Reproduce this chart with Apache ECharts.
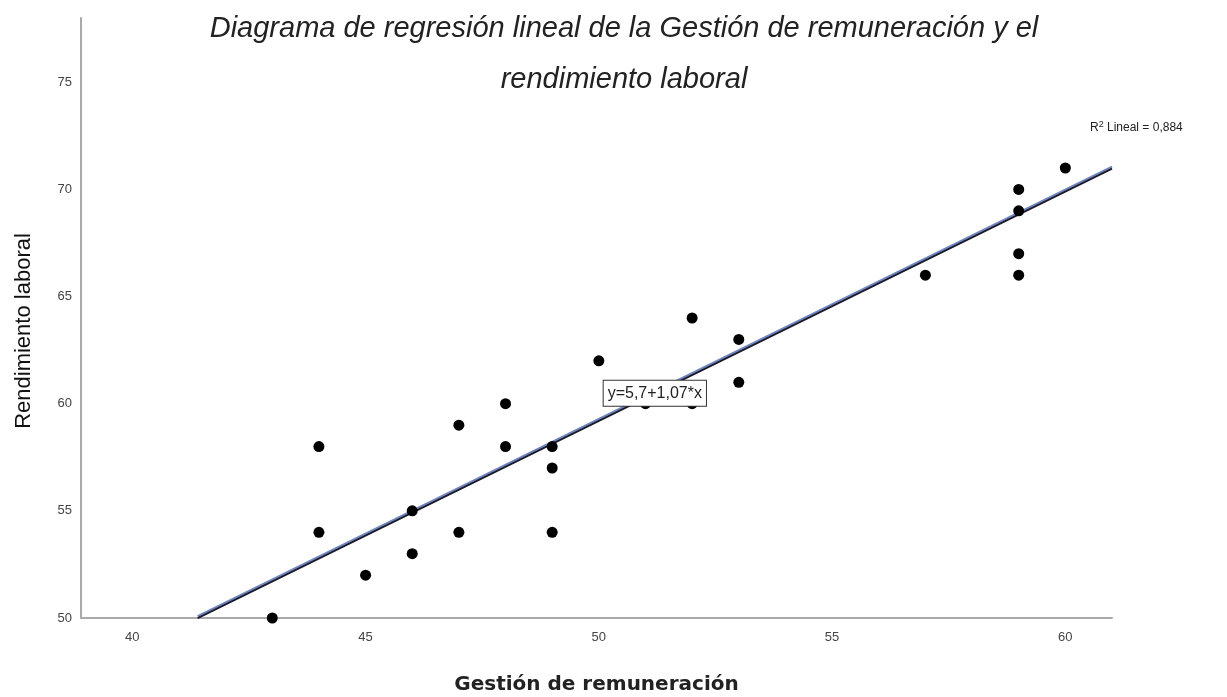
<!DOCTYPE html>
<html>
<head>
<meta charset="UTF-8">
<title>Diagrama de regresión</title>
<script src="https://cdn.jsdelivr.net/npm/echarts@6/dist/echarts.min.js"></script>
<style>
  html, body { margin: 0; padding: 0; background: #fff; }
  #main { width: 1227px; height: 697px; }
</style>
</head>
<body>
<div id="main"></div>
<script type="text/javascript">
// Gestión de remuneración (x) y Rendimiento laboral (y)
var gestion = [43, 44, 44, 45, 46, 46, 47, 47, 48, 48, 49, 49, 49, 50, 51, 52, 52, 53, 53, 57, 59, 59, 59, 59, 60];
var rendimiento = [50, 58, 54, 52, 55, 53, 59, 54, 60, 58, 58, 57, 54, 62, 60, 60, 64, 63, 61, 66, 70, 69, 67, 66, 71];
var xTicks = [40, 45, 50, 55, 60];
var yTicks = [50, 55, 60, 65, 70, 75];
// recta ajustada y = 5,7 + 1,07x, dibujada entre sus extremos visibles
var interseccion = 5.7;
var pendiente = 1.07;
var lineaX = [41.4, 61];
var etiquetaX = 51.2;

var puntos = gestion.map(function (g, i) { return [g, rendimiento[i]]; });
var recta = lineaX.map(function (x) { return [x, interseccion + pendiente * x]; });

var fuente = 'Liberation Sans, Arial, sans-serif';

var myChart = echarts.init(document.getElementById('main'));
myChart.setOption({
    animation: false,
    title: {
        text: 'Diagrama de regresión lineal de la Gestión de remuneración y el\nrendimiento laboral',
        left: 619,
        top: -2,
        textAlign: 'center',
        textStyle: {
            fontFamily: fuente,
            fontStyle: 'italic',
            fontWeight: 'normal',
            fontSize: 29,
            lineHeight: 51,
            color: '#222'
        }
    },
    grid: { left: 81, right: 115, top: 18, bottom: 79, outerBoundsMode: 'none' },
    xAxis: {
        type: 'value',
        min: 38.9,
        max: 61,
        name: 'Gestión de remuneración',
        nameLocation: 'middle',
        nameGap: 57,
        nameTextStyle: { fontFamily: 'DejaVu Sans, sans-serif', fontSize: 20, fontWeight: 'bold', color: '#222' },
        axisLine: { lineStyle: { color: '#aaa', width: 2 } },
        axisTick: { show: false },
        splitLine: { show: false },
        axisLabel: { customValues: xTicks, color: '#444', fontSize: 13, margin: 13, fontFamily: fuente }
    },
    yAxis: {
        type: 'value',
        min: 50,
        max: 78,
        axisLine: { show: true, lineStyle: { color: '#aaa', width: 2 } },
        axisTick: { show: false },
        splitLine: { show: false },
        axisLabel: { customValues: yTicks, color: '#444', fontSize: 13, margin: 9, fontFamily: fuente }
    },
    series: [
        {
            type: 'line',
            data: recta,
            symbol: 'none',
            z: 2,
            lineStyle: { color: '#1a1a2a', width: 2, shadowColor: '#6f86c4', shadowOffsetY: -2, shadowBlur: 0 },
            markPoint: {
                symbol: 'rect',
                symbolSize: 0,
                data: [{ coord: [etiquetaX, interseccion + pendiente * etiquetaX] }],
                label: {
                    show: true,
                    formatter: 'y=5,7+1,07*x',
                    color: '#222',
                    fontSize: 16,
                    fontFamily: fuente,
                    backgroundColor: '#fff',
                    borderColor: '#333',
                    borderWidth: 1,
                    padding: [5, 4, 4, 4]
                }
            }
        },
        {
            type: 'scatter',
            data: puntos,
            symbolSize: 11,
            z: 3,
            itemStyle: { color: '#000', opacity: 1 }
        }
    ],
    graphic: [
        {
            type: 'text',
            x: 24,
            y: 331,
            rotation: Math.PI / 2,
            style: {
                text: 'Rendimiento laboral',
                fill: '#111',
                fontSize: 22,
                fontFamily: fuente,
                align: 'center',
                verticalAlign: 'middle'
            }
        },
        {
            type: 'text',
            left: 1090,
            top: 120,
            style: {
                text: 'R{s|2} Lineal = 0,884',
                fill: '#222',
                fontSize: 12,
                fontFamily: fuente,
                rich: { s: { fontSize: 9, verticalAlign: 'top', padding: [0, 0, 6, 0] } }
            }
        }
    ]
});
</script>
</body>
</html>
